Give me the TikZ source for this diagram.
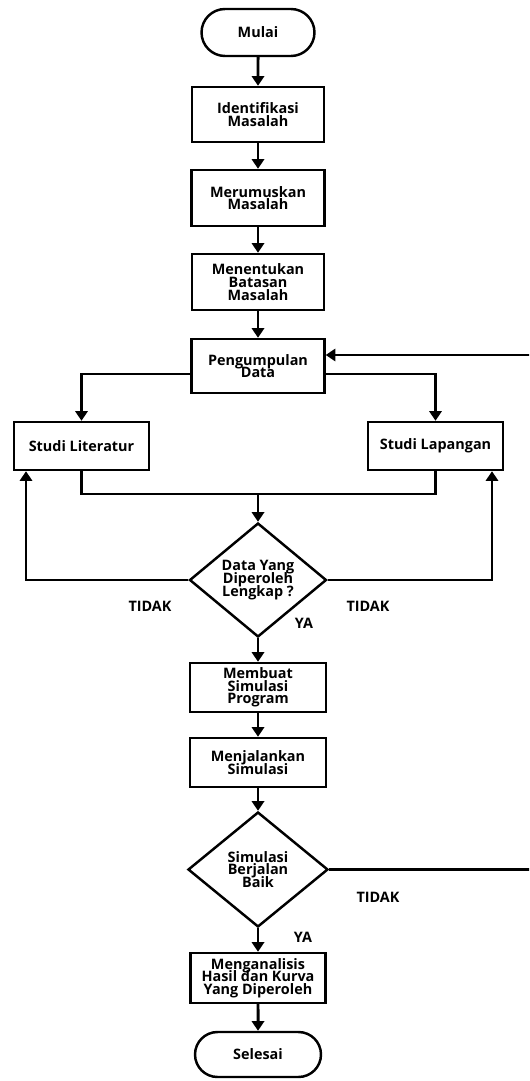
\documentclass[tikz,border=0pt]{standalone}
\usepackage{fontspec}
\setmainfont{Open Sans}
\usetikzlibrary{shapes.geometric,shapes.misc,arrows.meta,calc}
\tikzstyle{box}=[draw,line width=1.4pt,rectangle,align=center,inner sep=0]
\tikzstyle{term}=[draw,line width=1.4pt,rounded rectangle,align=center,inner sep=0]
\tikzstyle{decision}=[draw,line width=1.4pt,diamond,align=center,inner sep=0]
\tikzstyle{arrow}=[-{Triangle[length=5.5pt,width=7pt]},line width=1.7pt]
\tikzstyle{link}=[line width=1.3pt]
\tikzstyle{jawab}=[inner sep=0]

\begin{document}
\lineskiplimit=-5pt
\begin{tikzpicture}[x=0.02cm,y=-0.02cm,
    font={\fontsize{8.2pt}{7.2pt}\selectfont\bfseries}]
  \def\X{258} % main column
  \useasboundingbox (0,0) rectangle (529,1081);
  \clip (0,0) rectangle (529,1081);

  % NODES
  \node[term,minimum width=2.26cm,minimum height=0.94cm] (mulai) at (\X,32.5) {Mulai};
  \node[box,minimum width=2.64cm,minimum height=1.1cm] (identifikasi) at (\X,114.5) {Identifikasi\\Masalah};
  \node[box,minimum width=2.66cm,minimum height=1.12cm] (merumuskan) at (\X,198) {Merumuskan\\Masalah};
  \node[box,minimum width=2.64cm,minimum height=1.12cm] (batasan) at (\X,282) {Menentukan\\Batasan\\Masalah};
  \node[box,minimum width=2.66cm,minimum height=1.08cm] (pengumpulan) at (\X,366) {Pengumpulan\\Data};
  \node[box,minimum width=2.7cm,minimum height=0.96cm] (literatur) at (81.5,446) {Studi Literatur};
  \node[box,minimum width=2.7cm,minimum height=0.96cm] (lapangan) at (435.5,446) {Studi Lapangan};
  \node[decision,minimum width=2.74cm,minimum height=2.28cm] (lengkap) at (\X,580) {Data Yang\\Diperoleh\\Lengkap ?};
  \node[box,minimum width=2.72cm,minimum height=0.98cm] (membuat) at (\X,687.5) {Membuat\\Simulasi\\Program};
  \node[box,minimum width=2.72cm,minimum height=0.98cm] (menjalankan) at (\X,762.5) {Menjalankan\\Simulasi};
  \node[decision,minimum width=2.8cm,minimum height=2.3cm] (baik) at (\X,869.5) {Simulasi\\Berjalan\\Baik};
  \node[box,minimum width=2.7cm,minimum height=1.0cm] (analisis) at (\X,978) {Menganalisis\\Hasil dan Kurva\\Yang Diperoleh};
  \node[term,minimum width=2.52cm,minimum height=0.9cm] (selesai) at (\X,1054.5) {Selesai};

  % LABELS
  \node[jawab] (tidakA) at (150,606) {TIDAK};
  \node[jawab] (tidakB) at (368,606) {TIDAK};
  \node[jawab] (yaA) at (304,623) {YA};
  \node[jawab] (tidakC) at (378,897) {TIDAK};
  \node[jawab] (yaB) at (303,937) {YA};

  % MAIN FLOW
  \draw[arrow] (mulai) -- (identifikasi);
  \draw[arrow] (identifikasi) -- (merumuskan);
  \draw[arrow] (merumuskan) -- (batasan);
  \draw[arrow] (batasan) -- (pengumpulan);
  \draw[arrow] (lengkap) -- (membuat);
  \draw[arrow] (membuat) -- (menjalankan);
  \draw[arrow] (menjalankan) -- (baik);
  \draw[arrow] (baik) -- (analisis);
  \draw[arrow] (analisis) -- (selesai);

  % BRANCHES
  \draw[arrow,link] ($(pengumpulan.west)+(0,8)$) -| (literatur.north);
  \draw[arrow,link] ($(pengumpulan.east)+(0,8)$) -| (lapangan.north);
  \coordinate (gabung) at (\X,494);
  \draw[link] (literatur.south) |- (gabung) -| (lapangan.south);
  \draw[arrow] (gabung) -- (lengkap.north);

  % LOOPS
  \draw[arrow,link] (lengkap.west) -| ($(literatur.south)+(-55.5,0)$);
  \draw[arrow,link] (lengkap.east) -| ($(lapangan.south)+(56.5,0)$);
  \coordinate (balik) at (540,355);
  \draw[arrow,link] (baik.east) -| (balik) -- (pengumpulan.east |- balik);

\end{tikzpicture}
\end{document}
